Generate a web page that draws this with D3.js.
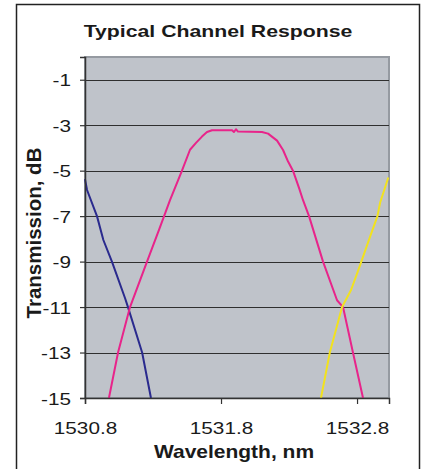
<!DOCTYPE html>
<html>
<head>
<meta charset="utf-8">
<script src="https://cdn.jsdelivr.net/npm/d3@7"></script>
<style>
  body { margin: 0; background: #fff; }
  text { font-family: "Liberation Sans", Arial, sans-serif; fill: #1a1a1a; }
</style>
</head>
<body>
<svg id="chart" width="422" height="469"></svg>
<script>
// values (wavelength nm, transmission dB)
var blueWl   = [1530.8, 1530.815, 1530.888, 1530.935, 1530.998, 1531.094, 1531.116, 1531.22, 1531.285];
var blueDb   = [-5.37, -5.85, -7.0, -8.05, -9.0, -10.6, -11.0, -13.0, -15.0];

var pinkWl   = [1530.976, 1531.043, 1531.131, 1531.256, 1531.344, 1531.425, 1531.513, 1531.572, 1531.616, 1531.66, 1531.697,
                1531.734, 1531.881, 1531.895, 1531.91, 1531.925, 1532.101, 1532.146, 1532.212, 1532.256, 1532.293,
                1532.329, 1532.374, 1532.403, 1532.447, 1532.55, 1532.653, 1532.697, 1532.77, 1532.844];
var pinkDb   = [-15.0, -13.0, -11.0, -9.0, -7.6, -6.3, -5.0, -4.08, -3.78, -3.5, -3.3,
                -3.22, -3.22, -3.3, -3.18, -3.28, -3.3, -3.37, -3.68, -4.09, -4.6,
                -5.0, -5.77, -6.3, -7.0, -9.0, -10.7, -11.0, -13.0, -15.0];

var yellowWl = [1532.535, 1532.6, 1532.69, 1532.756, 1532.82, 1532.896, 1532.95, 1532.97, 1533.0, 1533.03];
var yellowDb = [-15.0, -13.0, -11.0, -10.25, -9.2, -7.9, -7.0, -6.4, -5.85, -5.3];

var xTicks = [1530.8, 1531.8, 1532.8];
var yTicks = [-1, -3, -5, -7, -9, -11, -13, -15];

var series = [
    {wl: blueWl, db: blueDb, color: "#2a2a8e"},
    {wl: pinkWl, db: pinkDb, color: "#e8248a"},
    {wl: yellowWl, db: yellowDb, color: "#f2e21e"}
];

var svg = d3.select("#chart");
var plotLeft = 85, plotRight = 389, plotTop = 57, plotBottom = 398;

var x = d3.scaleLinear().domain([1530.8, 1533.035]).range([plotLeft, plotRight]);
var y = d3.scaleLinear().domain([-15, 0]).range([plotBottom, plotTop]);

// outer frame
svg.append("rect")
    .attr("x", 16.5).attr("y", 4.5)
    .attr("width", 403).attr("height", 480)
    .attr("fill", "#fff")
    .attr("stroke", "#222")
    .attr("stroke-width", 1.5);

// plot area
svg.append("rect")
    .attr("x", plotLeft).attr("y", plotTop)
    .attr("width", plotRight - plotLeft).attr("height", plotBottom - plotTop)
    .attr("fill", "#bfc3ca")
    .attr("stroke", "#959aa1")
    .attr("stroke-width", 2);

// gridlines
svg.append("g")
    .selectAll("line")
    .data(yTicks)
    .join("line")
    .attr("x1", plotLeft).attr("x2", plotRight)
    .attr("y1", function(d) { return Math.round(y(d)) + 0.5; })
    .attr("y2", function(d) { return Math.round(y(d)) + 0.5; })
    .attr("stroke", "#2f2f2f")
    .attr("stroke-width", 1.2);

// curves
var line = d3.line()
    .x(function(d) { return x(d[0]); })
    .y(function(d) { return y(d[1]); });

svg.append("g")
    .selectAll("path")
    .data(series)
    .join("path")
    .attr("d", function(s) { return line(d3.zip(s.wl, s.db)); })
    .attr("fill", "none")
    .attr("stroke", function(s) { return s.color; })
    .attr("stroke-width", 2)
    .attr("stroke-linejoin", "round");

// axes
var yAxis = svg.append("g")
    .attr("transform", "translate(" + plotLeft + ",0)")
    .call(d3.axisLeft(y).tickValues(yTicks).tickSize(5).tickPadding(0)
        .tickFormat(function(d) { return String(d); }));
var xAxis = svg.append("g")
    .attr("transform", "translate(0," + plotBottom + ")")
    .call(d3.axisBottom(x).tickValues(xTicks).tickSize(6).tickPadding(0)
        .tickFormat(function(d) { return d.toFixed(1); }));

[yAxis, xAxis].forEach(function(a) {
    a.select(".domain").attr("stroke", "#333").attr("stroke-width", 1.5);
    a.selectAll(".tick line").attr("stroke", "#333").attr("stroke-width", 1.2);
    a.selectAll("text")
        .style("font-family", "Liberation Sans, Arial, sans-serif")
        .style("font-size", "17px")
        .attr("fill", "#1a1a1a");
});

yAxis.selectAll(".tick text")
    .attr("x", -14 / 1.22)
    .attr("dy", "0.36em")
    .attr("transform", "scale(1.22,1)");
xAxis.selectAll(".tick text")
    .attr("y", 36)
    .attr("dy", 0)
    .attr("transform", "scale(1.22,1)");

// titles
svg.append("text")
    .attr("transform", "translate(218,37) scale(1.25,1)")
    .attr("text-anchor", "middle")
    .style("font-size", "17px")
    .style("font-weight", "bold")
    .text("Typical Channel Response");

svg.append("text")
    .attr("transform", "translate(234,458) scale(1.2,1)")
    .attr("text-anchor", "middle")
    .style("font-size", "17.5px")
    .style("font-weight", "bold")
    .text("Wavelength, nm");

svg.append("text")
    .attr("transform", "translate(41,233) rotate(-90)")
    .attr("text-anchor", "middle")
    .style("font-size", "20.5px")
    .style("font-weight", "bold")
    .text("Transmission, dB");
</script>
</body>
</html>
